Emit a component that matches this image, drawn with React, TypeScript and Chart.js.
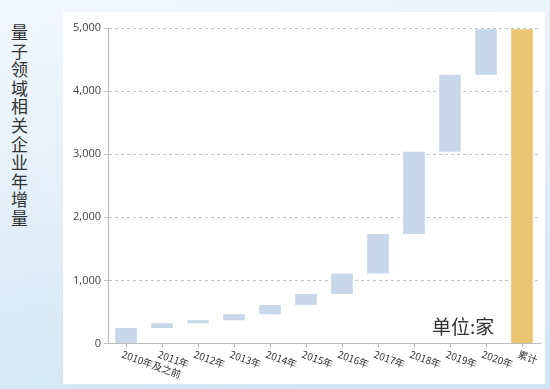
import React, { useEffect, useRef } from "react";
import { Chart, registerables } from "chart.js";

Chart.register(...registerables);

const categories = [
  "2010年及之前", "2011年", "2012年", "2013年", "2014年", "2015年",
  "2016年", "2017年", "2018年", "2019年", "2020年", "累计",
];
const lows = [0, 245, 320, 370, 465, 610, 785, 1110, 1735, 3040, 4260, 0];
const highs = [245, 320, 370, 465, 610, 785, 1110, 1735, 3040, 4260, 4980, 4980];
const yTicks = [0, 1000, 2000, 3000, 4000, 5000];
const yTitle = "量子领域相关企业年增量";
const unitText = "单位:家";

const BLUE = "rgb(201,215,234)";
const GOLD = "rgb(236,197,115)";

const xLabelPlugin = {
  id: "xLabelsRotated",
  afterDraw(chart: any) {
    const { ctx } = chart;
    const xs = chart.scales.x;
    ctx.save();
    ctx.font = '10px "Noto Sans CJK SC", sans-serif';
    ctx.fillStyle = "#333";
    ctx.textAlign = "left";
    ctx.textBaseline = "top";
    categories.forEach((c, i) => {
      const x = xs.getPixelForTick(i);
      ctx.save();
      ctx.translate(x - 2, 349);
      ctx.rotate((20 * Math.PI) / 180);
      ctx.fillText(c, 0, 0);
      ctx.restore();
    });
    ctx.restore();
  },
};

export default function App() {
  const ref = useRef<HTMLCanvasElement>(null);
  useEffect(() => {
    if (!ref.current) return;
    const data = categories.map((_, i) => [lows[i], highs[i]]);
    const chart = new Chart(ref.current, {
      type: "bar",
      data: {
        labels: categories,
        datasets: [
          {
            data: data as any,
            backgroundColor: categories.map((_, i) => (i === categories.length - 1 ? GOLD : BLUE)),
            borderWidth: 0,
            barPercentage: 0.6,
            categoryPercentage: 1,
          },
        ],
      },
      options: {
        animation: false,
        responsive: false,
        devicePixelRatio: 1,
        layout: { padding: { top: 28, right: 10, left: 0, bottom: 0 } },
        plugins: { legend: { display: false }, tooltip: { enabled: false }, title: { display: false } },
        scales: {
          x: {
            type: "category",
            grid: { display: true, drawOnChartArea: false, drawTicks: true, tickLength: 4, color: "#bdbdbd", offset: false },
            border: { display: true, color: "#bdbdbd", width: 1 },
            ticks: { display: false },
            afterFit: (s: any) => {
              s.height = 45.5;
              s.paddingLeft = 0;
              s.paddingRight = 0;
            },
          },
          y: {
            min: 0,
            max: 5000,
            afterBuildTicks: (s: any) => {
              s.ticks = yTicks.map((v) => ({ value: v }));
            },
            ticks: {
              font: { family: '"Open Sans", sans-serif', size: 11 },
              color: "#444",
              padding: 3,
              callback: (v: any) => Number(v).toLocaleString("en-US"),
            },
            grid: { color: "#c4c4c4", tickLength: 4, lineWidth: 1 },
            border: { display: true, color: "#bdbdbd", width: 1, dash: [3, 3] },
            afterFit: (s: any) => {
              s.width = 108;
              s.paddingTop = 0;
              s.paddingBottom = 0;
            },
          },
        },
      },
      plugins: [xLabelPlugin],
    });
    return () => chart.destroy();
  }, []);

  return (
    <div
      style={{
        position: "fixed",
        left: 0,
        top: 0,
        width: 550,
        height: 389,
        overflow: "hidden",
        background: "linear-gradient(170deg, #f3f8fd 0%, #e2eff9 45%, #cfe5f5 100%)",
      }}
    >
      <div
        style={{
          position: "absolute",
          left: 63,
          top: 12,
          width: 482,
          height: 372,
          background: "#ffffff",
        }}
      />
      <div
        style={{
          position: "absolute",
          left: 11,
          top: 23,
          width: 17,
          fontSize: 17,
          lineHeight: "18.6px",
          wordBreak: "break-all",
          fontFamily: '"Noto Sans CJK SC", sans-serif',
          color: "#333",
        }}
      >
        {yTitle}
      </div>
      <canvas
        ref={ref}
        width={550}
        height={389}
        style={{ position: "absolute", left: 0, top: 0, width: 550, height: 389 }}
      />
      <div
        style={{
          position: "absolute",
          left: 432,
          top: 316,
          fontSize: 19,
          lineHeight: "19px",
          whiteSpace: "nowrap",
          fontFamily: '"Noto Sans CJK SC", sans-serif',
          color: "#333",
        }}
      >
        {unitText}
      </div>
    </div>
  );
}
